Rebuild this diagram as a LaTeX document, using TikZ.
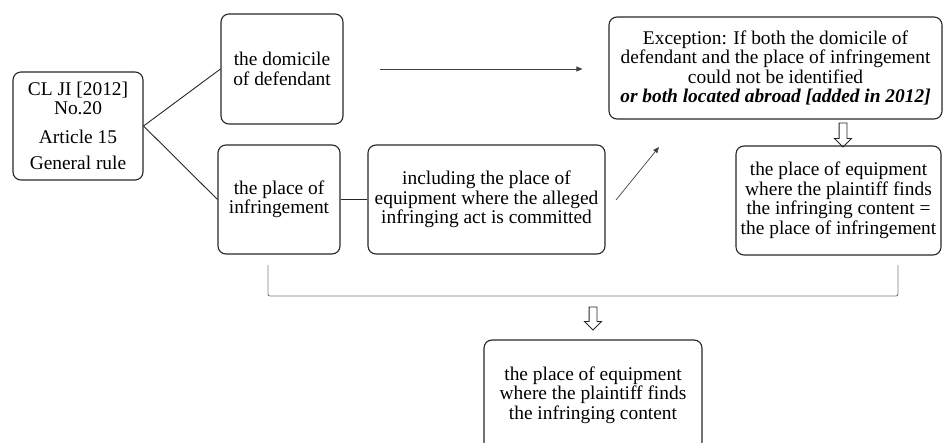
\documentclass[tikz,border=0pt]{standalone}
\usepackage{fontspec}
\setmainfont{Liberation Serif}
\usepackage{tikz}
\usetikzlibrary{arrows.meta, shapes.arrows}

\begin{document}
\begin{tikzpicture} [x = 1pt, y = -1pt,
  box/.style = {draw = black!85, line width = 1.1pt, rounded corners = 8pt, align = center,
    inner sep = 0pt, font = \fontsize{19.4}{19.5}\selectfont},
  hollow/.style = {single arrow, draw = black!85, line width = .9pt, shape border rotate = 270,
    inner sep = 3.5pt, single arrow head extend = 4.5pt, minimum height = 24pt},
  link/.style = {draw = black!85, line width = .9pt},
  pointer/.style = {draw = black!75, line width = .7pt, -{Triangle[length = 6pt, width = 5pt]}}]
\useasboundingbox (0,0) rectangle (944,443);
\node[box, minimum width = 130pt, minimum height = 108pt] (rule) at (78,126)
  {CL JI [2012]\\ No.20\\[9pt] Article 15\\[7pt] General rule};
\node[box, minimum width = 122pt, minimum height = 110pt] (dom) at (282,69)
  {the domicile\\ of defendant};
\node[box, minimum width = 122pt, minimum height = 109pt] (inf) at (279,199.5)
  {the place of\\ infringement};
\node[box, minimum width = 237pt, minimum height = 109pt] (incl) at (486.5,199.5)
  {including the place of\\ equipment where the alleged\\ infringing act is committed};
\node[box, minimum width = 333pt, minimum height = 102pt] (exc) at (775.5,68)
  {Exception: If both the domicile of\\ defendant and the place of infringement\\
   could not be identified\\ \textbf{\textit{or both located abroad [added in 2012]}}};
\node[box, minimum width = 205pt, minimum height = 109pt] (eq) at (838.5,200.5)
  {the place of equipment\\ where the plaintiff finds\\ the infringing content =\\
   the place of infringement};
\node[box, minimum width = 218pt, minimum height = 110pt] (fin) at (593,395)
  {the place of equipment\\ where the plaintiff finds\\ the infringing content};
\node[hollow] (down1) at (843,133) {};
\node[hollow, minimum height = 23pt] (down2) at (593,316.5) {};
\coordinate (diagA) at (616,200);
\coordinate (diagB) at (659,147);
\coordinate (brL) at (268,265);
\coordinate (brM) at (593,296);
\coordinate (brR) at (898,265);
\draw[link] (rule.east) -- (dom.west);
\draw[link] (rule.east) -- (inf.west);
\draw[link] (inf.east) -- (incl.west);
\draw[pointer, shorten <= 36pt, shorten >= 26pt] (dom.east) -- (dom.east -| exc.west);
\draw[pointer] (diagA) -- (diagB);
\draw[black!50, line width = .9pt, rounded corners = 2pt] (brL) |- (brM) -| (brR);
\end{tikzpicture}
\end{document}
